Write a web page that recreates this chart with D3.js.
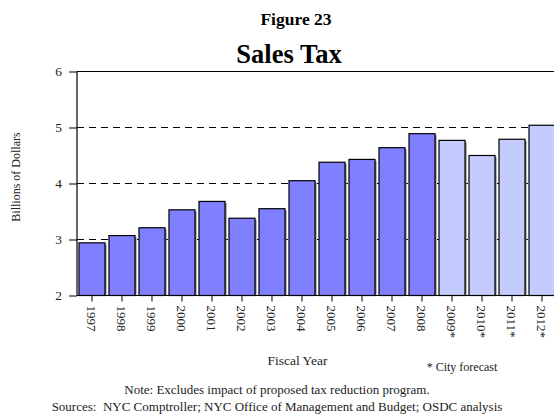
<!DOCTYPE html>
<html>
<head>
<meta charset="utf-8">
<script src="https://cdn.jsdelivr.net/npm/d3@7"></script>
<style>
  body { margin: 0; background: #fff; }
  svg { font-family: "Liberation Serif", "Times New Roman", serif; }
</style>
</head>
<body>
<div id="viz"></div>
<script>
var years = ["1997","1998","1999","2000","2001","2002","2003","2004","2005","2006","2007","2008","2009*","2010*","2011*","2012*"];
var salesTax = [2.94,3.07,3.21,3.53,3.68,3.38,3.55,4.05,4.38,4.43,4.64,4.89,4.77,4.50,4.79,5.04];
var forecast = [false,false,false,false,false,false,false,false,false,false,false,false,true,true,true,true];
var yTicks = [2,3,4,5,6];

var w = 554, h = 419;

var svg = d3.select("#viz").append("svg")
    .attr("width", w)
    .attr("height", h);

var x = d3.scaleBand()
    .domain(years)
    .range([77, 557])
    .paddingInner(0.133)
    .paddingOuter(0.066);

var y = d3.scaleLinear()
    .domain([2, 6])
    .range([295.5, 71.5]);

// dashed gridlines
svg.append("g")
  .selectAll("line")
  .data(yTicks.filter(function(d){ return d > 2 && d < 6; }))
  .enter().append("line")
    .attr("x1", 77)
    .attr("x2", w)
    .attr("y1", function(d){ return y(d); })
    .attr("y2", function(d){ return y(d); })
    .style("stroke", "#000")
    .style("stroke-width", 1)
    .style("stroke-dasharray", "7,5");

// top line
svg.append("line")
    .attr("x1", 77).attr("x2", w)
    .attr("y1", y(6)).attr("y2", y(6))
    .style("stroke", "#000");

// bar shadows
svg.append("g")
  .selectAll("rect")
  .data(salesTax)
  .enter().append("rect")
    .attr("x", function(d,i){ return x(years[i]) + 1.5; })
    .attr("y", function(d){ return y(d) + 1.5; })
    .attr("width", x.bandwidth())
    .attr("height", function(d){ return y(2) - y(d) - 1.5; })
    .style("fill", "#777");

// bars
svg.append("g")
  .selectAll("rect")
  .data(salesTax)
  .enter().append("rect")
    .attr("x", function(d,i){ return x(years[i]); })
    .attr("y", function(d){ return y(d); })
    .attr("width", x.bandwidth())
    .attr("height", function(d){ return y(2) - y(d); })
    .style("fill", function(d,i){ return forecast[i] ? "#c3cbff" : "#7f7fff"; })
    .style("stroke", "#000")
    .style("stroke-width", 1.2);

// y axis
var yAxis = svg.append("g")
    .attr("transform", "translate(77,0)")
    .call(d3.axisLeft(y).tickValues(yTicks).tickSize(8).tickPadding(7).tickFormat(d3.format("d")));
yAxis.select(".domain").remove();
yAxis.selectAll("text").style("font-size", "13.5px").style("font-family", "Liberation Serif").style("fill", "#222");
svg.append("line")
    .attr("x1", 77).attr("x2", 77)
    .attr("y1", y(6)).attr("y2", y(2))
    .style("stroke", "#000").style("stroke-width", 1.2);

// x axis
var xAxis = svg.append("g")
    .attr("transform", "translate(0," + y(2) + ")")
    .call(d3.axisBottom(x).tickSize(6).tickSizeOuter(0));
xAxis.select(".domain").attr("d", "M77,0H" + w).style("stroke-width", 1.2);
xAxis.selectAll("text")
    .style("font-size", "13px")
    .style("font-family", "Liberation Serif")
    .style("fill", "#222")
    .style("text-anchor", "start")
    .attr("transform", "rotate(90)")
    .attr("x", 10)
    .attr("y", 0)
    .attr("dy", "0.35em");

// titles
svg.append("text")
    .attr("x", 296).attr("y", 25)
    .attr("text-anchor", "middle")
    .style("font-weight", "bold").style("font-size", "17.5px")
    .text("Figure 23");

svg.append("text")
    .attr("x", 289).attr("y", 63)
    .attr("text-anchor", "middle")
    .style("font-weight", "bold").style("font-size", "26.5px")
    .text("Sales Tax");

svg.append("text")
    .attr("transform", "translate(20,177) rotate(-90)")
    .attr("text-anchor", "middle")
    .style("font-size", "12px")
    .style("fill", "#222")
    .text("Billions of Dollars");

svg.append("text")
    .attr("x", 297.5).attr("y", 365)
    .attr("text-anchor", "middle")
    .style("font-size", "13.5px")
    .style("fill", "#222")
    .text("Fiscal Year");

svg.append("text")
    .attr("x", 462).attr("y", 371)
    .attr("text-anchor", "middle")
    .style("font-size", "12px")
    .style("fill", "#222")
    .text("* City forecast");

svg.append("text")
    .attr("x", 277).attr("y", 394)
    .attr("text-anchor", "middle")
    .style("font-size", "13px")
    .style("fill", "#222")
    .text("Note: Excludes impact of proposed tax reduction program.");

svg.append("text")
    .attr("x", 277).attr("y", 411)
    .attr("text-anchor", "middle")
    .style("font-size", "13px")
    .style("fill", "#222")
    .style("white-space", "pre")
    .text("Sources:  NYC Comptroller; NYC Office of Management and Budget; OSDC analysis");
</script>
</body>
</html>
